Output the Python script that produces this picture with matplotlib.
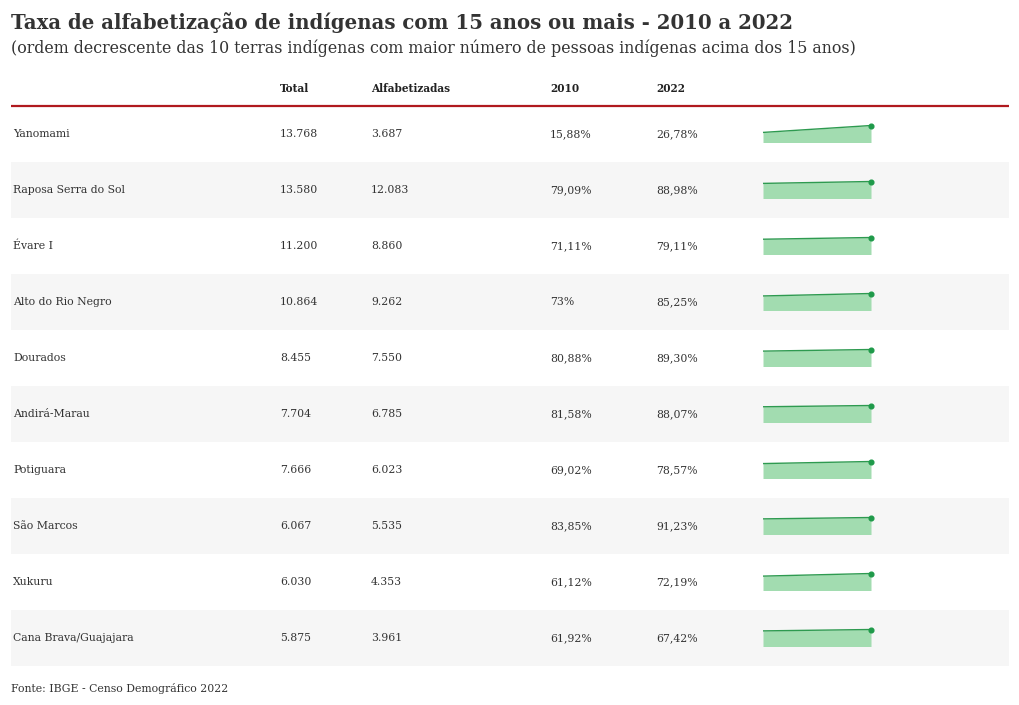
import matplotlib
matplotlib.use("Agg")
import matplotlib.pyplot as plt

terras = ["Yanomami", "Raposa Serra do Sol", "Évare I", "Alto do Rio Negro", "Dourados",
          "Andirá-Marau", "Potiguara", "São Marcos", "Xukuru", "Cana Brava/Guajajara"]
total = ["13.768", "13.580", "11.200", "10.864", "8.455", "7.704", "7.666", "6.067", "6.030", "5.875"]
alfabetizadas = ["3.687", "12.083", "8.860", "9.262", "7.550", "6.785", "6.023", "5.535", "4.353", "3.961"]
taxa_2010 = [15.88, 79.09, 71.11, 73.0, 80.88, 81.58, 69.02, 83.85, 61.12, 61.92]
taxa_2022 = [26.78, 88.98, 79.11, 85.25, 89.30, 88.07, 78.57, 91.23, 72.19, 67.42]
anos = [2010, 2022]
headers = ["Total", "Alfabetizadas", "2010", "2022"]

title = "Taxa de alfabetização de indígenas com 15 anos ou mais - 2010 a 2022"
subtitle = "(ordem decrescente das 10 terras indígenas com maior número de pessoas indígenas acima dos 15 anos)"
source = "Fonte: IBGE - Censo Demográfico 2022"

def fmt_pct(v):
    s = f"{v:.0f}" if v == int(v) else f"{v:.2f}"
    return s.replace(".", ",") + "%"

W, H = 1020, 705
fig = plt.figure(figsize=(W / 100, H / 100), dpi=100)
ax = fig.add_axes([0, 0, 1, 1])
ax.set_xlim(0, W)
ax.set_ylim(H, 0)
ax.axis("off")

serif = ["DejaVu Serif"]
txt = "#333333"
fs = 7.8

ax.text(11, 23, title, fontsize=14.2, fontweight="bold", family=serif, color="#333333", va="center")
ax.text(11, 48, subtitle, fontsize=11.4, family=serif, color="#333333", va="center")

col_x = [280, 371, 550, 656]
for x, h in zip(col_x, headers):
    ax.text(x, 89, h, fontsize=7.6, fontweight="bold", family=serif, color="#222222", va="center")
ax.plot([11, 1009], [106, 106], color="#b0191e", lw=1.6, solid_capstyle="butt")

row_h = 56
top0 = 106
for i, name in enumerate(terras):
    top = top0 + i * row_h
    cy = top + row_h / 2
    if i % 2 == 1:
        ax.add_patch(plt.Rectangle((11, top), 998, row_h, color="#f6f6f6", lw=0, zorder=0))
    ax.text(13, cy, name, fontsize=fs, family=serif, color=txt, va="center")
    ax.text(col_x[0], cy, total[i], fontsize=fs, family=serif, color=txt, va="center")
    ax.text(col_x[1], cy, alfabetizadas[i], fontsize=fs, family=serif, color=txt, va="center")
    ax.text(col_x[2], cy, fmt_pct(taxa_2010[i]), fontsize=fs, family=serif, color=txt, va="center")
    ax.text(col_x[3], cy, fmt_pct(taxa_2022[i]), fontsize=fs, family=serif, color=txt, va="center")

    # sparkline
    x0, x1 = 763, 871
    yb, yt = cy + 8.5, cy - 8.5
    sax = fig.add_axes([x0 / W, 1 - yb / H, (x1 - x0) / W, (yb - yt) / H])
    vals = [taxa_2010[i], taxa_2022[i]]
    sax.fill_between(anos, 0, vals, color="#a2dcb0", lw=0)
    sax.plot(anos, vals, color="#2e9a50", lw=1.0, clip_on=False, solid_capstyle="butt")
    sax.plot([anos[-1]], [vals[-1]], "o", color="#1f9a4a", ms=3.4, clip_on=False)
    sax.set_xlim(anos[0], anos[-1])
    sax.set_ylim(0, max(vals))
    sax.axis("off")
    sax.patch.set_alpha(0)

ax.text(11, 688, source, fontsize=7.8, family=serif, color=txt, va="center")

fig.savefig("out.png", dpi=100)
